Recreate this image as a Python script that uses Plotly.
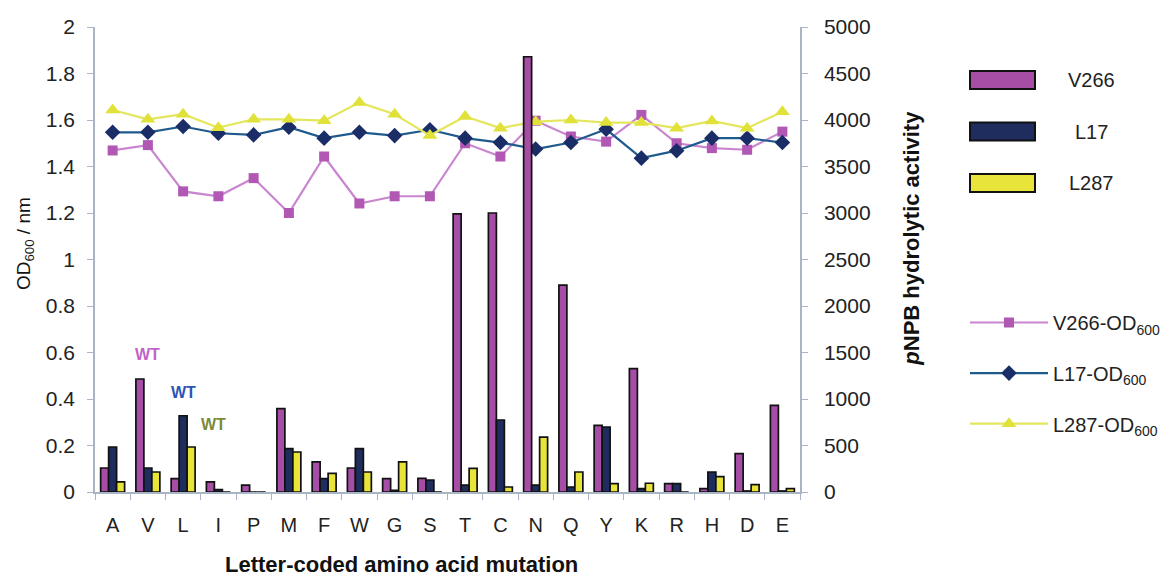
import plotly.graph_objects as go

categories = ["A", "V", "L", "I", "P", "M", "F", "W", "G", "S",
              "T", "C", "N", "Q", "Y", "K", "R", "H", "D", "E"]

# pNPB hydrolytic activity (right axis, bars)
v266_act = [258, 1215, 143, 108, 75, 896, 323, 258, 143, 147,
            2990, 3000, 4680, 2225, 717, 1326, 90, 36, 412, 932]
l17_act = [484, 258, 820, 25, 0, 466, 143, 466, 18, 129,
           75, 774, 75, 54, 699, 36, 90, 215, 11, 11]
l287_act = [108, 215, 484, 0, 0, 430, 201, 215, 323, 0,
            255, 54, 591, 215, 91, 94, 0, 165, 79, 36]

# OD600 (left axis, lines)
v266_od = [1.469, 1.492, 1.293, 1.272, 1.350, 1.200, 1.443, 1.241, 1.272, 1.272,
           1.500, 1.443, 1.597, 1.529, 1.507, 1.622, 1.500, 1.479, 1.472, 1.550]
l17_od = [1.547, 1.547, 1.572, 1.543, 1.536, 1.569, 1.522, 1.547, 1.533, 1.558,
          1.522, 1.503, 1.475, 1.503, 1.560, 1.436, 1.468, 1.522, 1.522, 1.503]
l287_od = [1.643, 1.603, 1.625, 1.567, 1.603, 1.603, 1.597, 1.675, 1.625, 1.533,
           1.615, 1.565, 1.593, 1.600, 1.589, 1.589, 1.565, 1.596, 1.565, 1.636]

left_ticks = [0, 0.2, 0.4, 0.6, 0.8, 1, 1.2, 1.4, 1.6, 1.8, 2]
left_ticktext = ["0", "0.2", "0.4", "0.6", "0.8", "1", "1.2", "1.4", "1.6", "1.8", "2"]
right_ticks = [0, 500, 1000, 1500, 2000, 2500, 3000, 3500, 4000, 4500, 5000]

bar_names = ["V266", "L17", "L287"]
bar_colors = ["#a64ea6", "#1f2c5e", "#e9e43a"]

FONT = "Liberation Sans, Arial, sans-serif"
AXC = "#a9b5c4"
PAD = "&nbsp;"

# the html page adds an 8px body margin; layout positions compensate for it
OFF = 8
L, R, T, B = 95 - OFF, 800 - OFF, 27 - OFF, 492 - OFF
W, H = 1175, 575


def px_x(px):
    return (px - OFF - L) / (R - L)


def px_y(py):
    return (B - (py - OFF)) / (B - T)


fig = go.Figure()

for name, vals, col in zip(bar_names, [v266_act, l17_act, l287_act], bar_colors):
    fig.add_trace(go.Bar(
        x=categories, y=vals, name=name, yaxis="y2",
        marker=dict(color=col, line=dict(color="#111111", width=1.7)),
        showlegend=False,
    ))

line_specs = [("V266-OD<sub>600</sub>", v266_od, "#c985cf", "#b058b3", "square", 10),
              ("L17-OD<sub>600</sub>", l17_od, "#1f5a8c", "#1a2d66", "diamond", 12),
              ("L287-OD<sub>600</sub>", l287_od, "#e4e65c", "#e0e23a", "triangle-up", 13)]
for name, vals, lc, mc, sym, sz in line_specs:
    fig.add_trace(go.Scatter(
        x=categories, y=vals, name=name, yaxis="y", mode="lines+markers",
        line=dict(color=lc, width=2.2),
        marker=dict(symbol=sym, size=sz, color=mc, line=dict(width=0)),
        legend="legend2", legendgroup=name,
    ))

# WT labels
fig.add_annotation(x="V", y=0.59, xref="x", yref="y", text="<b>WT</b>",
                   showarrow=False, font=dict(size=16, color="#c262c9", family=FONT))
fig.add_annotation(x="L", y=0.43, xref="x", yref="y", text="<b>WT</b>",
                   showarrow=False, font=dict(size=16, color="#2b54b4", family=FONT))
fig.add_annotation(x="L", y=0.29, xref="x", yref="y", text="<b>WT</b>", xshift=30,
                   showarrow=False, font=dict(size=16, color="#7b8a36", family=FONT))

# custom legend for the bar series (wide rectangles as in the reference)
for i, (name, col) in enumerate(zip(bar_names, bar_colors)):
    cy = 80 + i * 51.5
    fig.add_shape(type="rect", xref="paper", yref="paper",
                  x0=px_x(970), x1=px_x(1035), y0=px_y(cy - 9), y1=px_y(cy + 9),
                  fillcolor=col, line=dict(color="#111111", width=2))
    fig.add_annotation(xref="paper", yref="paper", x=px_x(1091), y=px_y(cy),
                       text=name, showarrow=False, xanchor="center", yanchor="middle",
                       font=dict(size=20, color="#222222", family=FONT))

fig.update_layout(
    width=W, height=H,
    margin=dict(l=L, r=W - R, t=T, b=H - B),
    paper_bgcolor="white", plot_bgcolor="white",
    font=dict(family=FONT, color="#222222", size=20),
    barmode="group", bargap=0.32, bargroupgap=0,
    xaxis=dict(
        type="category", range=[-0.5, 19.5], automargin=False,
        showline=True, linecolor=AXC, linewidth=1.5,
        ticks="outside", tickson="boundaries", ticklen=6, tickcolor=AXC,
        tickfont=dict(size=20, color="#222222"), ticklabelstandoff=14,
        title=dict(text="<b>Letter-coded amino acid mutation" + PAD * 15 + "</b>",
                   font=dict(size=22, color="#111111"), standoff=22),
        showgrid=False, zeroline=False,
    ),
    yaxis=dict(
        range=[0, 2], tickvals=left_ticks, ticktext=left_ticktext, automargin=False,
        showline=True, linecolor=AXC, linewidth=1.5,
        ticks="outside", ticklen=6, tickcolor=AXC,
        tickfont=dict(size=21, color="#222222"), ticklabelstandoff=8,
        title=dict(text=PAD * 6 + "OD<sub>600</sub> / nm",
                   font=dict(size=19, color="#111111"), standoff=10),
        showgrid=False, zeroline=False,
    ),
    yaxis2=dict(
        range=[0, 5000], tickvals=right_ticks, overlaying="y", side="right",
        automargin=False,
        showline=True, linecolor=AXC, linewidth=1.5,
        ticks="outside", ticklen=6, tickcolor=AXC,
        tickfont=dict(size=21, color="#222222"), ticklabelstandoff=12,
        title=dict(text="<b>" + PAD * 7 + "<i>p</i>NPB hydrolytic activity</b>",
                   font=dict(size=22, color="#111111"), standoff=34),
        showgrid=False, zeroline=False,
    ),
    legend2=dict(
        xref="container", yref="container",
        x=(965 - OFF) / W, y=1 - (303 - OFF) / H, xanchor="left", yanchor="top",
        font=dict(size=20, color="#222222"), bgcolor="rgba(0,0,0,0)",
        tracegroupgap=21.6, itemwidth=78,
    ),
    showlegend=True,
)

fig.write_html("out.html")
